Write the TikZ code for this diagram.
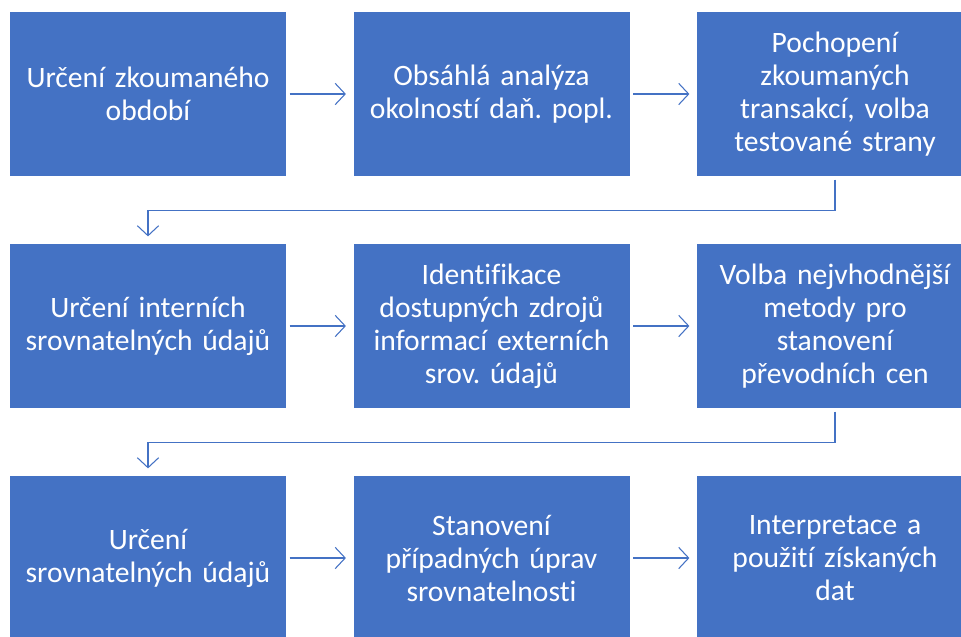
\documentclass[tikz,border=0pt]{standalone}
\usepackage{fontspec}
\setmainfont{Carlito}[Ligatures=NoCommon]
\usetikzlibrary{arrows.meta}
\definecolor{boxblue}{HTML}{4472C4}
\begin{document}
\frenchspacing
\begin{tikzpicture}[x=0.75pt,y=-0.75pt,
  stepbox/.style={rectangle, fill=boxblue, draw=none,
    minimum width=207pt, minimum height=123pt, inner sep=0pt,
    text=white, text width=195pt, align=center,
    font=\fontsize{22.2pt}{24.75pt}\selectfont},
  flow/.style={draw=boxblue, line width=0.8pt,
    -{Straight Barb[length=7.5pt, width=16pt, line width=0.8pt]},
    shorten <=2.5pt, shorten >=5.5pt}]
\useasboundingbox (0,0) rectangle (961,636);
\clip (0,0) rectangle (961,636);
\node[stepbox] (b1) at (148,94)   {Určení zkoumaného\\období};
\node[stepbox] (b2) at (491.5,94) {Obsáhlá analýza\\okolností daň. popl.};
\node[stepbox] (b3) at (835,94)   {Pochopení\\zkoumaných\\transakcí, volba\\testované strany};
\node[stepbox] (b4) at (148,326)   {Určení interních\\srovnatelných údajů};
\node[stepbox] (b5) at (491.5,326) {Identifikace\\dostupných zdrojů\\informací externích\\srov. údajů};
\node[stepbox] (b6) at (835,326)   {Volba nejvhodnější\\metody pro\\stanovení\\převodních cen};
\node[stepbox] (b7) at (148,558)   {Určení\\srovnatelných údajů};
\node[stepbox] (b8) at (491.5,558) {Stanovení\\případných úprav\\srovnatelnosti};
\node[stepbox] (b9) at (835,558)   {Interpretace a\\použití získaných\\dat};
\draw[flow] (b1) -- (b2);
\draw[flow] (b2) -- (b3);
\draw[flow] (b4) -- (b5);
\draw[flow] (b5) -- (b6);
\draw[flow] (b7) -- (b8);
\draw[flow] (b8) -- (b9);
\draw[flow] (b3.south) -- ++(0,34) -| (b4.north);
\draw[flow] (b6.south) -- ++(0,34) -| (b7.north);
\end{tikzpicture}
\end{document}
